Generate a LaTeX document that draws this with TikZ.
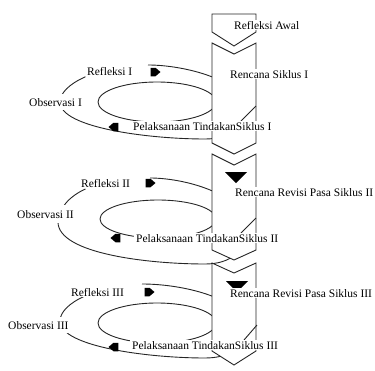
\documentclass[tikz,border=0pt]{standalone}
\usepackage{fontspec}
\setmainfont{Liberation Serif}
\usetikzlibrary{shapes.symbols}

\tikzset{
	chev/.style={draw=black!85, fill=white, line width=0.9pt},
	loopline/.style={draw=black!85, line width=0.9pt},
	lbl/.style={fill=white, inner xsep=2pt, inner ysep=1pt, anchor=base west, font=\fontsize{11.5}{13}\selectfont},
	blkarrow/.style={shape=signal, fill=black, inner sep=0pt, minimum width=10pt, minimum height=8.5pt, signal pointer angle=80}
}

\begin{document}
\begin{tikzpicture}[x=1pt,y=-1pt]
	\useasboundingbox (0,0) rectangle (375,370);

	% siklus I
	\begin{scope}
		\draw[loopline] (148,65) .. controls (185,65) and (240,80) .. (244,104)
			.. controls (247,128) and (230,139) .. (205,139)
			.. controls (150,139) and (60,128) .. (60,102)
			.. controls (60,93) and (69.5,83.75) .. (85.5,76.75);
		\draw[loopline] (157,102) ellipse [x radius=59, y radius=20];
		\node[blkarrow, signal to=east] (arA1) at (153,72) {};
		\node[blkarrow, signal to=west] (arB1) at (116,127) {};
	\end{scope}

	% siklus II
	\begin{scope}[yshift=-112pt]
		\draw[loopline] (150,66) .. controls (185,66) and (242,82) .. (245,112)
			.. controls (247,140) and (230,152) .. (205,152)
			.. controls (150,152) and (58,142) .. (58,110)
			.. controls (58,97) and (69.5,84) .. (85.5,77);
		\draw[loopline] (158,107) ellipse [x radius=58, y radius=19];
		\node[blkarrow, signal to=east] (arA2) at (148,71) {};
		\node[blkarrow, signal to=west] (arB2) at (118,126) {};
	\end{scope}

	% siklus III
	\begin{scope}[yshift=-219pt]
		\draw[loopline] (142,65) .. controls (185,65) and (240,80) .. (244,104)
			.. controls (247,128) and (230,139) .. (205,139)
			.. controls (150,139) and (60,128) .. (60,102)
			.. controls (60,93) and (69.5,83.75) .. (85.5,76.75);
		\draw[loopline] (157,104) ellipse [x radius=59, y radius=20];
		\node[blkarrow, signal to=east] (arA3) at (147,73) {};
		\node[blkarrow, signal to=west] (arB3) at (116,128) {};
	\end{scope}

	% kolom panah
	\draw[chev] (212,14) -- (256,14) -- (256,32) -- (234,46) -- (212,32) -- cycle;
	\draw[chev] (212,43) -- (234,54) -- (256,43) -- (256,143) -- (234,154) -- (212,143) -- cycle;
	\draw[chev] (212,154) -- (234,165) -- (256,154) -- (256,250) -- (234,260) -- (212,250) -- cycle;
	\draw[chev] (212,263) -- (234,273) -- (256,263) -- (256,351) -- (234,365) -- (212,351) -- cycle;
	\draw[loopline] (256,106) -- (241,121);
	\draw[loopline] (256,218) -- (241,233);
	\draw[loopline] (257,325) -- (244,340);
	\fill (225,172) -- (247,172) -- (236,183) -- cycle;
	\fill (226,281) -- (248,281) -- (237,292) -- cycle;

	% teks
	\node[lbl] (ra) at (232,29) {Refleksi Awal};
	\node[lbl] (rs1) at (228,78) {Rencana Siklus I};
	\node[lbl] (rf1) at (85,75) {Refleksi I};
	\node[lbl, inner ysep=4pt] (ob1) at (27,106) {Observasi I};
	\node[lbl] (pl1) at (131,130) {Pelaksanaan TindakanSiklus I};

	\node[lbl] (rf2) at (79,187) {Refleksi II};
	\node[lbl] (rs2) at (233,196) {Rencana Revisi Pasa Siklus II};
	\node[lbl, inner ysep=5pt] (ob2) at (15,218) {Observasi II};
	\node[lbl] (pl2) at (134,242) {Pelaksanaan TindakanSiklus II};

	\node[lbl] (rf3) at (69,296) {Refleksi III};
	\node[lbl] (rs3) at (228,297) {Rencana Revisi Pasa Siklus III};
	\node[lbl, inner ysep=4pt] (ob3) at (6,329) {Observasi III};
	\node[lbl] (pl3) at (130,349) {Pelaksanaan TindakanSiklus III};
\end{tikzpicture}
\end{document}
